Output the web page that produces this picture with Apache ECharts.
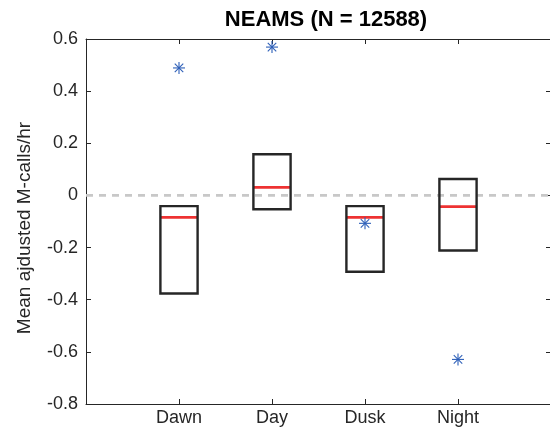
<!DOCTYPE html>
<html>
<head>
<meta charset="utf-8">
<script src="https://cdn.jsdelivr.net/npm/echarts@6/dist/echarts.min.js"></script>
<style>
html,body{margin:0;padding:0;background:#fff;}
#chart{width:550px;height:428px;}
</style>
</head>
<body>
<div id="chart"></div>
<script>
// ---- data ----
var categories = ['Dawn', 'Day', 'Dusk', 'Night'];
var boxLow    = [-0.376, -0.053, -0.293, -0.211];
var boxHigh   = [-0.041,  0.158, -0.041,  0.063];
var medians   = [-0.084,  0.031, -0.084, -0.043];
var outlierCategory = ['Dawn', 'Day', 'Dusk', 'Night'];
var outlierValue    = [0.489, 0.569, -0.107, -0.629];
var yTicks = [-0.8, -0.6, -0.4, -0.2, 0, 0.2, 0.4, 0.6];
var titleText = 'NEAMS (N = 12588)';
var yLabel = 'Mean ajdusted M-calls/hr';

var FONT = '"Liberation Sans", Arial, Helvetica, sans-serif';
var AX = '#262626';

var boxData = categories.map(function (c, i) { return [i + 1, boxLow[i], boxHigh[i], medians[i]]; });
var outData = outlierCategory.map(function (c, i) { return [categories.indexOf(c) + 1, outlierValue[i]]; });

var chart = echarts.init(document.getElementById('chart'), null, {renderer: 'canvas'});

function xLabel(v) {
  var i = Math.round(v) - 1;
  return (i >= 0 && i < categories.length) ? categories[i] : '';
}

var option = {
  animation: false,
  backgroundColor: '#fff',
  grid: {left: 86, top: 39, width: 465, height: 365, containLabel: false, outerBoundsMode: 'none'},
  xAxis: [{
    type: 'value', min: 0, max: 5, interval: 1, position: 'bottom',
    axisLine: {show: true, onZero: false, lineStyle: {color: AX, width: 1}},
    axisTick: {show: true, inside: true, length: 5, lineStyle: {color: AX}},
    axisLabel: {formatter: xLabel, color: AX, fontSize: 18, fontFamily: FONT, margin: 5},
    splitLine: {show: false}
  }, {
    type: 'value', min: 0, max: 5, interval: 1, position: 'top',
    axisLine: {show: true, onZero: false, lineStyle: {color: AX, width: 1}},
    axisTick: {show: true, inside: true, length: 5, lineStyle: {color: AX}},
    axisLabel: {show: false},
    splitLine: {show: false}
  }],
  yAxis: [{
    type: 'value', min: yTicks[0], max: yTicks[yTicks.length - 1], interval: 0.2, position: 'left',
    axisLine: {show: true, onZero: false, lineStyle: {color: AX, width: 1}},
    axisTick: {show: true, inside: true, length: 5, lineStyle: {color: AX}},
    axisLabel: {color: AX, fontSize: 18, fontFamily: FONT, margin: 8,
      formatter: function (v) { return String(Math.round(v * 10) / 10); }},
    splitLine: {show: false}
  }, {
    type: 'value', min: yTicks[0], max: yTicks[yTicks.length - 1], interval: 0.2, position: 'right',
    axisLine: {show: true, onZero: false, lineStyle: {color: AX, width: 1}},
    axisTick: {show: true, inside: true, length: 5, lineStyle: {color: AX}},
    axisLabel: {show: false},
    splitLine: {show: false}
  }],
  graphic: [{
    type: 'text', x: 326, y: 20,
    style: {text: titleText, fontSize: 22, fontWeight: 'bold', fontFamily: FONT, fill: '#000',
      align: 'center', verticalAlign: 'middle'}
  }, {
    type: 'text', x: 25, y: 228, rotation: Math.PI / 2,
    style: {text: yLabel, fontSize: 19, fontFamily: FONT, fill: AX,
      align: 'center', verticalAlign: 'middle'}
  }],
  series: [{
    type: 'line', xAxisIndex: 0, yAxisIndex: 0,
    data: [[0, 0], [5, 0]], showSymbol: false, silent: true, z: 1,
    lineStyle: {color: '#c8c8c8', width: 2.7, type: [7, 6]}
  }, {
    type: 'custom', xAxisIndex: 0, yAxisIndex: 0, z: 3,
    data: boxData,
    renderItem: function (params, api) {
      var x = api.value(0);
      var lo = api.coord([x - 0.2, api.value(1)]);
      var hi = api.coord([x + 0.2, api.value(2)]);
      var mL = api.coord([x - 0.2, api.value(3)]);
      var mR = api.coord([x + 0.2, api.value(3)]);
      return {type: 'group', children: [{
        type: 'line', shape: {x1: mL[0], y1: mL[1], x2: mR[0], y2: mR[1]},
        style: {stroke: '#ee3232', lineWidth: 2.6}
      }, {
        type: 'rect', shape: {x: lo[0], y: hi[1], width: hi[0] - lo[0], height: lo[1] - hi[1]},
        style: {fill: 'none', stroke: AX, lineWidth: 2.4}
      }]};
    }
  }, {
    type: 'custom', xAxisIndex: 0, yAxisIndex: 0, z: 4,
    data: outData,
    renderItem: function (params, api) {
      var c = api.coord([api.value(0), api.value(1)]);
      var r = 6, d = r * 0.7071;
      var st = {stroke: '#2d5fb8', lineWidth: 1.1};
      return {type: 'group', children: [
        {type: 'line', shape: {x1: c[0] - r, y1: c[1], x2: c[0] + r, y2: c[1]}, style: st},
        {type: 'line', shape: {x1: c[0], y1: c[1] - r, x2: c[0], y2: c[1] + r}, style: st},
        {type: 'line', shape: {x1: c[0] - d, y1: c[1] - d, x2: c[0] + d, y2: c[1] + d}, style: st},
        {type: 'line', shape: {x1: c[0] - d, y1: c[1] + d, x2: c[0] + d, y2: c[1] - d}, style: st}
      ]};
    }
  }]
};
chart.setOption(option);
</script>
</body>
</html>
